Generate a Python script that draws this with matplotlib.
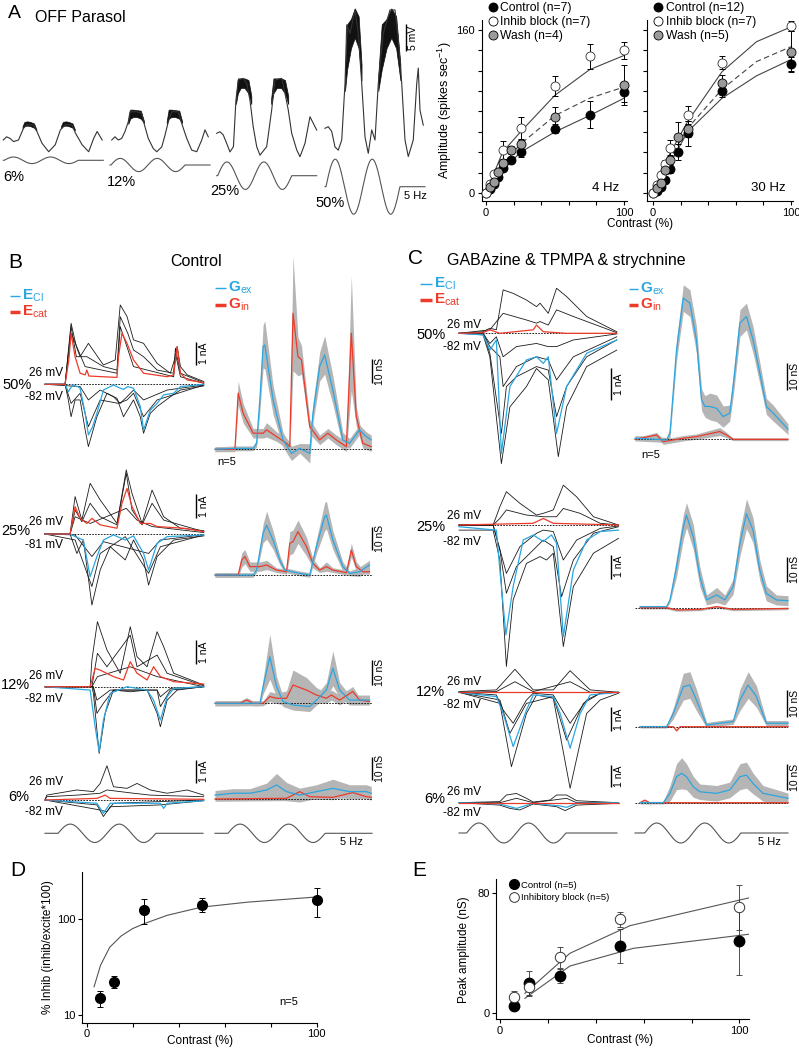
import matplotlib
matplotlib.use("Agg")
import matplotlib.pyplot as plt
import numpy as np
from matplotlib.lines import Line2D
from matplotlib.ticker import NullLocator

plt.rcParams['font.family'] = ['Liberation Sans', 'DejaVu Sans']
plt.rcParams['mathtext.fontset'] = 'custom'
plt.rcParams['mathtext.rm'] = 'Liberation Sans'
plt.rcParams['mathtext.it'] = 'Liberation Sans'
plt.rcParams['mathtext.bf'] = 'Liberation Sans:bold'

BLUE = '#2aa6e0'
RED = '#ec3b2a'
GRAY_BAND = '#b5b5b5'
TRACE_K = '#1a1a1a'

# ---------------------------------------------------------------- data
# Panel A: membrane potential (mV, relative to rest) vs time (ms)
a6_t = [0, 17, 35, 53, 79, 105, 123, 158, 175, 201, 236, 270, 297, 323, 358, 375, 410, 444, 470, 488, 514]
a6_v = [0, 0.6, 0.3, -0.3, 0, 2.2, 2.9, 2.8, 1.6, -0.6, -2.2, -0.9, 1.9, 2.9, 2.8, 1.3, -0.9, -2.2, 0.3, 1.6, 0]
a12_t = [9, 26, 43, 61, 78, 95, 104, 139, 165, 177, 199, 225, 243, 269, 286, 303, 321, 355, 373, 399, 425, 451, 477, 494, 511]
a12_v = [0, 0.6, 0, 0.3, 1.6, 3.4, 5.3, 5.3, 5.0, 3.1, 0.3, -1.6, -2.2, -1.3, 0.9, 3.4, 5.3, 5.3, 3.1, 0.3, -1.9, -2.2, 0, 1.9, 0.6]
a25_t = [0, 17, 34, 52, 69, 87, 100, 112, 138, 156, 173, 190, 208, 225, 260, 286, 303, 338, 355, 372, 390, 416, 433, 459, 485, 502, 520]
a25_v = [0, 0.3, -0.3, -1.9, -3.5, -2.5, 6.2, 10.0, 10.3, 9.4, 6.2, 1.2, -2.5, -4.1, -2.5, 4.4, 10.0, 10.3, 7.5, 4.4, 0, -3.1, -4.4, -1.9, 3.1, 1.9, 0.6]
a50_t = [0, 17, 35, 52, 69, 87, 104, 113, 130, 156, 173, 191, 208, 225, 243, 260, 277, 303, 338, 364, 381, 399, 416, 433, 459, 477, 485, 494, 511]
a50_v = [0, 0.3, -0.6, -3.5, -4.1, -2.2, 8.4, 19.4, 17.8, 22.2, 17.8, 8.4, -1.6, -4.7, -0.3, -2.2, 8.4, 17.8, 22.2, 22.2, 16.6, 8.4, -2.2, -5.3, -2.2, 8.4, 11.3, 3.4, 0.6]
# spiking envelopes (ms, mV)
a6_spk1_t = [100, 110, 125, 140, 160, 172]
a6_spk2_t = [300, 310, 325, 340, 360, 372]
a6_spk_lo = [2.2, 2.6, 2.7, 2.6, 2.3, 1.8]
a6_spk_hi = [2.6, 3.4, 3.5, 3.4, 3.1, 2.0]
a12_spk1_t = [95, 105, 120, 140, 160, 177]
a12_spk2_t = [295, 305, 320, 340, 360, 375]
a12_spk_lo = [3.0, 4.0, 4.3, 4.3, 4.0, 3.2]
a12_spk_hi = [3.6, 5.7, 5.7, 5.6, 5.5, 3.5]
a25_spk1_t = [100, 110, 125, 145, 165, 180]
a25_spk2_t = [283, 295, 312, 335, 355, 372]
a25_spk_lo = [5.5, 7.5, 8.5, 8.5, 7.5, 5.5]
a25_spk_hi = [6.5, 10.3, 10.3, 10.3, 10.0, 7.0]
a50_spk1_t = [104, 115, 135, 155, 175, 190]
a50_spk2_t = [277, 295, 320, 345, 370, 392]
a50_spk_lo = [7, 11, 15, 17, 15, 9]
a50_spk_hi = [10, 19.5, 20.5, 22.5, 21, 12]
a_contrasts = [6, 12, 25, 50]
stim_freq_hz = 5.2

# Panel A right: spike amplitude vs contrast
a4_ctrl_c = [0, 3, 6, 9, 12, 18, 25, 50, 75, 100]
a4_ctrl = [0, 4, 9, 16, 25, 32, 40.5, 63, 77, 99]
a4_ctrl_e = [1, 2, 2, 3, 3, 3, 5.5, 4.5, 13, 10]
a4_inh_c = [0, 3, 6, 12, 25, 50, 75, 100]
a4_inh = [0, 8.5, 18.5, 42, 63.5, 105, 134, 140]
a4_inh_e = [1, 2, 3, 9, 11, 10, 12.5, 8]
a4_wash_c = [3, 6, 9, 12, 18, 25, 50, 100]
a4_wash = [5.6, 11, 21, 29, 42, 48, 75, 106]
a4_wash_e = [2, 2, 3, 3, 4, 5, 9, 20]
fit_c = [0, 6, 12, 25, 50, 75, 100]
a4_fit_ctrl = [0, 12, 22, 40, 60, 76, 93]
a4_fit_inh = [0, 20, 40, 60, 96, 121, 135]
a4_fit_wash = [0, 14, 28, 48, 76, 93, 104]

a30_ctrl_c = [0, 3, 6, 9, 12, 18, 25, 50, 100]
a30_ctrl = [0, 2.3, 6, 12.8, 24, 40.5, 58.5, 100, 126.6]
a30_ctrl_e = [1, 2, 2, 3, 4, 8, 12, 6, 7]
a30_inh_c = [0, 3, 6, 9, 12, 25, 50, 100]
a30_inh = [0, 8, 17.7, 28, 44, 76.5, 128, 164]
a30_inh_e = [1, 2, 3, 4, 8, 9, 6, 5]
a30_wash_c = [3, 6, 9, 12, 18, 25, 50, 100]
a30_wash = [5, 10, 22.6, 32, 55, 62.5, 108, 138.7]
a30_wash_e = [2, 2, 4, 5, 15, 8, 8, 20]
a30_fit_ctrl = [0, 14, 28, 60, 93, 115, 131]
a30_fit_inh = [0, 18, 38, 70, 119, 148.5, 163]
a30_fit_wash = [0, 16, 33, 63.5, 101.8, 129, 143.6]

# Panel B, Control: currents (nA) vs time (ms)
b50l_red = ([0, 80, 95, 104, 120, 140, 160, 167, 175, 230, 287, 293, 307, 327, 353, 393, 487, 513, 527, 540, 567, 633],
            [0, 0, 1.06, 2.22, 1.20, 0.48, 0.41, 0.62, 0.36, 0.33, 0.30, 1.20, 2.22, 1.78, 1.06, 0.48, 0.33, 0.41, 1.64, 0.48, 0.19, 0.07])
b50l_blue = ([0, 80, 93, 110, 130, 140, 160, 173, 190, 207, 233, 273, 300, 313, 330, 353, 380, 393, 420, 447, 473, 513, 540, 633],
             [0, 0, -0.32, -0.03, -0.10, -0.17, -1.26, -2.20, -1.84, -1.26, -0.25, -0.03, -0.17, -0.22, -0.10, -0.17, -0.97, -1.99, -1.12, -0.83, -0.46, -0.39, -0.10, 0])
b50l_k1 = ([0, 80, 104, 125, 140, 173, 233, 280, 300, 327, 353, 393, 447, 500, 520, 527, 540, 567, 633],
           [0, 0, 2.65, 1.64, 1.20, 1.78, 0.84, 1.06, 3.45, 2.95, 1.93, 1.78, 0.91, 0.48, 1.20, 1.64, 0.77, 0.41, 0.12])
b50l_k2 = ([0, 80, 104, 125, 167, 233, 287, 300, 330, 353, 393, 447, 513, 520, 540, 633],
           [0, 0, 2.51, 1.20, 1.20, 0.77, 0.62, 2.94, 2.22, 1.49, 1.20, 0.62, 0.48, 1.57, 0.48, 0.07])
b50l_k3 = ([0, 80, 104, 160, 287, 300, 353, 513, 520, 540, 633],
           [0, 0, 2.22, 0.77, 0.48, 2.51, 0.77, 0.33, 1.35, 0.33, 0.04])
b50l_k4 = ([0, 80, 93, 104, 120, 140, 160, 173, 207, 247, 287, 313, 353, 380, 393, 420, 447, 500, 540, 633],
           [0, 0, -0.68, -1.41, -0.68, -0.68, -1.98, -2.71, -1.41, -0.39, -0.61, -1.41, -0.68, -1.41, -2.13, -1.26, -0.97, -0.54, -0.25, -0.07])
b50l_k5 = ([0, 80, 104, 140, 173, 220, 293, 327, 353, 393, 447, 633],
           [0, 0, -0.83, -0.39, -1.84, -0.68, -0.83, -0.68, -0.39, -1.41, -0.68, -0.03])
b50l_k6 = ([0, 140, 173, 220, 273, 300, 327, 353, 393, 487, 633],
           [0, -0.10, -0.68, -0.25, -0.54, -0.83, -0.54, -0.25, -0.68, -0.25, -0.03])
# conductances (nS) with s.e.m.
b50r_blue = ([0, 80, 153, 167, 180, 193, 200, 233, 273, 307, 340, 380, 393, 420, 440, 473, 513, 540, 580, 607, 627],
             [0, 0.4, 0.4, 2.5, 20.6, 42.8, 43.5, 20.6, 3.9, -1.7, 0.4, -1.7, 15.0, 34.5, 39.3, 24.7, 3.9, 2.5, 8.1, 5.3, 3.9],
             [1, 1, 1, 1.5, 5, 9, 10, 6, 3, 3, 2, 4, 4, 6, 8, 6, 3, 2, 2, 2, 2])
b50r_red = ([0, 80, 93, 113, 153, 193, 207, 247, 287, 300, 313, 333, 347, 380, 420, 453, 487, 527, 547, 567, 593, 627],
            [0, 0, 23.4, 15.0, 6.7, 6.7, 8.1, 5.3, 2.5, 1.1, 56.7, 38.6, 37.3, 9.5, 3.9, 6.7, 3.9, 1.1, 48.4, 13.6, 2.5, 1.1],
            [1, 1, 5, 4, 2, 2, 3, 2, 2, 2, 24, 8, 6, 3, 2, 2, 2, 2, 24, 4, 2, 2])

b25l_red = ([0, 100, 120, 140, 167, 187, 220, 287, 307, 327, 347, 380, 420, 447, 553, 633],
            [0, 0, 1.14, 0.65, 0.44, 0.65, 0.38, 0.24, 1.28, 1.90, 1.14, 0.44, 0.44, 0.31, 0.24, 0.10])
b25l_blue = ([0, 100, 127, 153, 180, 207, 233, 273, 320, 353, 393, 413, 447, 487, 633],
             [0, 0, -0.14, -0.25, -1.78, -0.94, -0.25, -0.04, -0.25, -0.08, -0.81, -1.50, -0.39, -0.11, -0.04])
b25l_k1 = ([0, 100, 120, 147, 180, 220, 287, 324, 347, 387, 427, 473, 540, 633],
           [0, 0, 1.56, 0.58, 2.11, 1.42, 0.44, 2.67, 1.69, 0.44, 1.83, 0.72, 0.24, 0.14])
b25l_k2 = ([0, 100, 120, 147, 180, 220, 287, 324, 347, 387, 427, 473, 633],
           [0, 0, 1.0, 0.51, 1.28, 0.72, 0.38, 2.53, 1.0, 0.38, 1.28, 0.58, 0.10])
b25l_k3 = ([0, 100, 120, 180, 324, 367, 427, 633],
           [0, 0, 0.72, 0.44, 1.07, 0.58, 0.31, 0.06])
b25l_k4 = ([0, 100, 127, 153, 187, 220, 260, 320, 353, 393, 413, 447, 513, 633],
           [0, 0, -0.81, -0.25, -2.96, -1.50, -0.53, -1.08, -0.25, -1.08, -2.13, -0.94, -0.25, -0.08])
b25l_k5 = ([0, 120, 187, 220, 320, 413, 460, 633],
           [0, -0.25, -2.19, -0.81, -0.11, -1.64, -0.53, -0.04])
b25l_k6 = ([0, 120, 187, 233, 413, 460, 633],
           [0, -0.04, -0.94, -0.32, -0.81, -0.25, -0.03])
b25r_blue = ([0, 153, 167, 193, 207, 233, 260, 280, 340, 380, 407, 440, 447, 473, 513, 540, 580, 620],
             [0, 0, 2.1, 17.9, 21.4, 15.0, 6.4, 2.1, 0.7, 0, 12.2, 25.0, 25.7, 15.0, 3.6, 0.7, 1.4, 4.3],
             [1, 1, 1, 4, 6, 4, 2, 1, 1, 1, 3, 6, 6, 4, 2, 1, 2, 2])
b25r_red = ([0, 93, 107, 120, 140, 180, 207, 247, 287, 300, 313, 333, 367, 393, 420, 447, 473, 527, 547, 567, 593, 620],
            [0, 0, 6.4, 7.9, 3.6, 3.6, 4.3, 2.1, 1.4, 13.6, 14.3, 18.6, 12.2, 5.0, 2.1, 3.6, 2.1, 1.0, 10.7, 3.6, 1.4, 1.4],
            [1, 1, 3, 3, 2, 2, 2, 1, 1, 5, 5, 5, 4, 2, 1, 2, 1, 1, 3, 2, 1, 1])

b12l_red = ([0, 180, 200, 220, 273, 313, 340, 367, 407, 433, 460, 513, 633],
            [0, 0, 0.76, 0.69, 0.42, 0.28, 1.04, 0.56, 0.28, 0.83, 0.42, 0.21, 0.11])
b12l_blue = ([0, 180, 200, 216, 233, 260, 327, 407, 433, 460, 487, 513, 633],
             [0, -0.14, -1.67, -2.71, -1.39, -0.28, 0, -0.14, -0.56, -1.39, -0.42, -0.07, 0])
b12l_k1 = ([0, 180, 187, 209, 247, 300, 340, 367, 407, 447, 473, 513, 633],
           [0, 0, 1.11, 2.71, 1.53, 0.56, 2.50, 1.25, 0.83, 2.29, 1.67, 0.56, 0.07])
b12l_k2 = ([0, 187, 209, 247, 340, 367, 447, 487, 633],
           [0, 0, 1.39, 0.83, 2.15, 0.83, 1.32, 0.56, 0.04])
b12l_k3 = ([0, 187, 209, 340, 447, 633], [0, 0, 0.42, 0.83, 0.42, 0])
b12l_k4 = ([0, 187, 193, 216, 240, 273, 340, 407, 447, 460, 487, 527, 633],
           [0, 0, -0.28, -2.78, -1.11, -0.14, -0.21, -0.14, -1.11, -1.67, -0.56, -0.14, 0])
b12l_k5 = ([0, 193, 207, 233, 273, 447, 460, 500, 633], [0, 0, -1.11, -0.69, -0.14, -0.14, -0.83, -0.14, 0])
b12l_k6 = ([0, 193, 207, 260, 447, 460, 500, 633], [0, 0, -0.56, -0.14, -0.14, -0.42, -0.07, 0])
b12r_blue = ([0, 180, 193, 220, 247, 273, 313, 380, 407, 447, 473, 500, 540, 620],
             [0, 0, 6.7, 18.6, 6.7, 0.7, -0.7, -1.3, 1.3, 5.3, 14.0, 5.3, 1.3, 1.3],
             [1, 1, 3, 9, 4, 2, 2, 2, 2, 3, 7, 3, 2, 2])
b12r_red = ([0, 100, 127, 153, 193, 220, 247, 287, 313, 367, 407, 447, 467, 500, 553, 580, 620],
            [0, 0, 1.3, 0, 0, 2.7, 2.0, 2.0, 7.3, 5.3, 3.3, 2.0, 3.3, 1.3, 4.7, 1.3, 0.7],
            [1, 1, 1, 1, 1, 2, 2, 3, 6, 5, 3, 2, 2, 2, 2, 1, 1])

b6l_red = ([0, 207, 240, 260, 633], [0, 0.07, 0.21, 0.07, 0.03])
b6l_blue = ([0, 207, 233, 260, 460, 473, 487, 633], [0, -0.14, -0.57, -0.14, -0.14, -0.36, -0.14, -0.03])
b6l_k1 = ([0, 7, 127, 193, 220, 247, 273, 327, 367, 420, 487, 567, 633],
          [0, 0.21, 0.43, 0.36, 0.71, 1.47, 0.57, 0.50, 0.71, 0.43, 0.29, 0.43, 0.21])
b6l_k2 = ([0, 7, 127, 220, 247, 353, 420, 633], [0, 0.14, 0.21, 0.29, 0.43, 0.29, 0.21, 0.14])
b6l_k3 = ([0, 207, 233, 260, 460, 633], [0, -0.21, -0.71, -0.29, -0.21, -0.03])
b6l_k4 = ([0, 220, 247, 273, 633], [0, -0.43, -0.5, -0.14, 0])
b6r_blue = ([0, 73, 140, 207, 247, 287, 340, 407, 473, 540, 607, 627],
            [1.7, 2.5, 2.5, 3.9, 6.1, 3.2, 1.7, 3.2, 4.6, 3.2, 3.2, 2.5],
            [2, 2, 2, 3, 5, 4, 3, 3, 4, 3, 3, 3])
b6r_red = ([0, 287, 340, 380, 473, 553, 607, 627],
           [0, 0.3, 3.2, 1.0, 0.7, 2.8, 1.0, 0.7],
           [1, 1, 1, 1, 1, 1, 1, 1])

# Panel C, inhibitory block
c50l_k1 = ([0, 96, 123, 149, 176, 216, 269, 309, 323, 356, 389, 429, 509, 629],
           [0, 0.05, 0.16, 0.11, 1.37, 1.26, 1.05, 0.84, 0.95, 0.63, 1.42, 1.16, 0.53, 0.05])
c50l_k2 = ([0, 123, 176, 269, 309, 323, 356, 389, 456, 629],
           [0, 0.11, 0.63, 0.42, 0.32, 0.37, 0.26, 0.74, 0.53, 0.02])
c50l_k3 = ([0, 96, 123, 149, 176, 229, 309, 356, 389, 456, 629],
           [0, 0, -0.32, -0.11, -0.74, -0.42, -0.32, -0.42, -0.42, -0.21, -0.02])
c50l_k4 = ([0, 96, 123, 163, 176, 229, 309, 356, 389, 456, 629],
           [0, 0, -0.42, -0.74, -1.68, -1.05, -0.74, -0.84, -1.47, -0.74, -0.11])
c50l_k5 = ([0, 96, 123, 169, 189, 229, 309, 356, 389, 429, 509, 629],
           [0, 0, -0.63, -3.16, -1.68, -1.37, -1.05, -1.16, -2.63, -1.68, -0.74, -0.21])
c50l_k6 = ([0, 96, 123, 169, 203, 269, 309, 356, 396, 429, 509, 629],
           [0, -0.05, -0.74, -4.11, -2.32, -1.68, -1.11, -1.47, -3.89, -2.32, -1.05, -0.53])
c50l_blue = ([0, 96, 123, 149, 169, 203, 269, 309, 336, 356, 389, 429, 509, 629],
             [0, -0.05, -0.53, -0.21, -3.79, -1.68, -0.84, -0.74, -0.95, -0.74, -3.16, -1.68, -0.63, -0.21])
c50l_red = ([0, 96, 123, 163, 296, 309, 336, 429, 629], [0, 0.02, 0.11, 0, 0.11, 0.26, 0.05, 0, 0])
c50r_blue = ([0, 89, 130, 144, 171, 199, 226, 253, 274, 288, 308, 336, 363, 390, 404, 432, 459, 486, 514, 541, 569, 630],
             [0.4, 0, -0.3, 2.3, 33.5, 52.9, 51, 37.3, 14.8, 12.3, 12.3, 11.6, 8.5, 9.8, 19.8, 43.5, 46, 37.3, 24.8, 12.3, 9.8, 3.8],
             [1, 1, 1, 2, 4, 5, 5, 5, 4, 4, 5, 5, 4, 3, 4, 5, 5, 5, 4, 3, 3, 2])
c50r_red = ([0, 89, 116, 199, 253, 349, 377, 404, 630],
            [0, 1.6, -0.9, 0.4, 1.0, 2.9, 1.6, 0, 0],
            [0.5, 1, 1, 1, 1, 1.5, 1, 0.5, 0.5])

c25l_k1 = ([0, 136, 163, 189, 243, 309, 336, 376, 416, 469, 536, 636],
           [0, 0, 0.75, 1.37, 0.89, 0.41, 0.48, 0.62, 1.64, 1.16, 0.34, 0])
c25l_k2 = ([0, 136, 163, 189, 269, 336, 389, 416, 483, 563, 636],
           [0, 0, 0.27, 0.62, 0.41, 0.34, 0.34, 0.68, 0.48, 0.07, 0])
c25l_k3 = ([0, 136, 149, 189, 243, 309, 336, 376, 416, 469, 563, 636],
           [0, 0, -0.48, -1.99, -0.89, -0.34, -0.21, -0.27, -1.44, -0.62, -0.14, -0.04])
c25l_k4 = ([0, 136, 163, 189, 229, 336, 376, 409, 456, 536, 636],
           [0, 0, -1.03, -2.81, -1.71, -0.62, -0.89, -2.95, -1.44, -0.34, -0.07])
c25l_k5 = ([0, 136, 163, 189, 216, 269, 323, 349, 376, 416, 456, 536, 636],
           [-0.21, -0.21, -1.44, -5.82, -3.08, -1.58, -1.30, -1.44, -1.16, -5.0, -2.53, -1.16, -0.55])
c25l_blue = ([0, 149, 163, 187, 216, 256, 296, 336, 369, 389, 416, 456, 509, 563, 636],
             [-0.07, -0.21, -1.85, -4.52, -2.53, -0.62, -0.41, -0.68, -0.41, -0.75, -4.59, -1.85, -0.62, -0.27, -0.21])
c25l_red = ([0, 296, 336, 376, 636], [0, 0.07, 0.27, 0.07, 0])
c25r_blue = ([21, 130, 144, 171, 199, 212, 240, 267, 295, 336, 370, 404, 432, 459, 486, 514, 541, 582, 630],
             [0.4, 0.4, 3.1, 16.4, 32.3, 37.0, 28.3, 12.4, 3.1, 5.1, 3.1, 8.4, 25.7, 37.6, 31.0, 15.0, 5.7, 3.1, 2.8],
             [0.5, 0.5, 1, 4, 5, 5, 5, 4, 2, 3, 2, 3, 5, 6, 5, 4, 3, 2, 2])
c25r_red = ([21, 130, 171, 267, 336, 404, 630], [0, 0, -0.9, -0.7, 0.4, -0.7, -0.3], [0.5, 0.5, 0.5, 0.5, 0.5, 0.5, 0.5])

c12l_k1 = ([0, 149, 223, 296, 376, 443, 523, 636], [0.03, 0.1, 0.96, 0.1, 0.1, 0.9, 0.1, 0])
c12l_k2 = ([0, 149, 223, 296, 443, 523, 636], [0, 0.03, 0.44, 0.03, 0.44, 0, 0])
c12l_k3 = ([0, 149, 176, 216, 269, 296, 376, 403, 443, 509, 563, 636],
           [0, -0.11, -0.74, -1.29, -0.32, -0.04, -0.11, -0.6, -1.29, -0.32, -0.04, 0])
c12l_k4 = ([0, 163, 203, 269, 376, 429, 496, 563, 636], [0, -0.32, -1.71, -0.46, -0.18, -1.99, -0.46, -0.04, 0])
c12l_k5 = ([0, 163, 209, 269, 309, 376, 443, 509, 563, 636], [0, -0.46, -3.10, -0.88, -0.11, -0.25, -4.0, -0.88, -0.32, -0.04])
c12l_blue = ([0, 149, 176, 216, 269, 296, 376, 403, 443, 483, 523, 636],
             [0, -0.18, -0.88, -2.26, -0.74, -0.11, -0.18, -0.88, -2.33, -0.88, -0.11, 0])
c12l_red = ([0, 636], [0, 0])
c12r_blue = ([21, 130, 158, 199, 226, 253, 295, 349, 404, 432, 466, 500, 541, 630],
             [0, 0, 5, 15, 15.6, 10, 0.6, 1.3, 1.9, 10, 15.6, 11.3, 1.3, 1.3],
             [0.5, 0.5, 2, 5, 5, 4, 1, 1, 1, 4, 5, 4, 1, 1])
c12r_red = ([21, 158, 171, 185, 630], [0, 0, -1.5, 0, 0], [0.3, 0.3, 0.3, 0.3, 0.3])

c6l_k1 = ([0, 163, 189, 229, 269, 296, 363, 389, 429, 469, 636], [0, 0.05, 0.35, 0.42, 0.2, 0.03, 0.12, 0.35, 0.35, 0.09, 0])
c6l_k2 = ([0, 163, 229, 296, 429, 469, 636], [0, 0, 0.2, 0, 0.2, 0, 0])
c6l_k3 = ([0, 163, 203, 243, 296, 389, 423, 469, 636], [0, -0.11, -0.26, -0.33, -0.06, -0.18, -0.36, -0.11, -0.03])
c6l_blue = ([0, 163, 203, 229, 296, 403, 429, 469, 636], [0, -0.06, -0.18, -0.26, -0.03, -0.15, -0.21, -0.03, 0])
c6l_red = ([0, 636], [0, 0])
c6r_blue = ([21, 116, 144, 171, 192, 212, 240, 267, 336, 390, 432, 459, 486, 527, 630],
            [0, 0, 3.6, 10, 11.3, 10, 6.1, 4.2, 3.6, 4.9, 10, 10.6, 7.4, 3.6, 1.7],
            [0.5, 0.5, 3, 5, 6, 5, 4, 3, 3, 3, 5, 5, 4, 3, 2])
c6r_red = ([21, 40, 60, 630], [0, 1, 0, 0], [0.3, 0.3, 0.3, 0.3])

# Panel D: % inhibition
d_contrast = [6, 12, 25, 50, 100]
d_inhib = [14.9, 22.2, 126, 142, 160]
d_lo = [12.0, 19.0, 90, 119, 106]
d_hi = [17.9, 25.5, 161.6, 167, 212]
d_fit_c = [3.2, 6, 10, 15, 20, 25, 35, 50, 70, 100]
d_fit_y = [19.7, 33, 51, 67, 80, 90, 110, 134, 151, 171]

# Panel E: peak conductance
e_contrast = [6, 12, 25, 50, 100]
e_ctrl = [4.9, 20, 24.9, 44.9, 48.2]
e_ctrl_err = [2, 8.5, 4.5, 11.5, 22.5]
e_inh = [10.7, 17.3, 37.3, 62.7, 70.7]
e_inh_err = [4, 5, 7, 5, 15]
e_fit_inh_c = [10.4, 29.2, 54.3, 105]
e_fit_inh = [13.3, 40, 58.4, 77.3]
e_fit_ctrl_c = [10.4, 29.2, 55.7, 105]
e_fit_ctrl = [10, 31.5, 43.3, 52.9]

# ---------------------------------------------------------------- layout helpers
W, H = 799, 1050
fig = plt.figure(figsize=(W / 100, H / 100), dpi=100)


def ftxt(x, y, s, **kw):
    kw.setdefault('va', 'center')
    return fig.text(x / W, 1 - y / H, s, **kw)


def px_axes(x0, y0, x1, y1):
    ax = fig.add_axes([x0 / W, 1 - y1 / H, (x1 - x0) / W, (y1 - y0) / H])
    ax.patch.set_alpha(0)
    return ax


def trace_ax(x0, x1, base, scale, up=95, down=95, tmax=630):
    ax = px_axes(x0, base - up, x1, base + down)
    ax.set_xlim(0, tmax)
    ax.set_ylim(-down / scale, up / scale)
    ax.axis('off')
    return ax


def fig_line(x0, x1, y, color, lw):
    fig.add_artist(Line2D([x0 / W, x1 / W], [1 - y / H, 1 - y / H], color=color, lw=lw,
                          transform=fig.transFigure, solid_capstyle='butt'))


def vbar(ax, t, v0, length, label):
    ax.plot([t, t], [v0, v0 + length], color='k', lw=1.0, clip_on=False, solid_capstyle='butt')
    ax.text(t + 12, v0 + length / 2, label, rotation=90, va='center', ha='left', fontsize=7.5, clip_on=False)


def draw_currents(ax, blacks, blue, red):
    ax.axhline(0, color='k', lw=0.6, ls=(0, (2, 1.5)))
    for tr in blacks:
        ax.plot(tr[0], tr[1], color=TRACE_K, lw=0.6, clip_on=False)
    ax.plot(blue[0], blue[1], color=BLUE, lw=0.9, clip_on=False)
    ax.plot(red[0], red[1], color=RED, lw=0.9, clip_on=False)


def draw_cond(ax, blue, red):
    for tr in (red, blue):
        t = np.array(tr[0]); v = np.array(tr[1]); s = np.array(tr[2])
        ax.fill_between(t, v - s, v + s, color=GRAY_BAND, lw=0, clip_on=False)
    ax.axhline(0, color='k', lw=0.6, ls=(0, (2, 1.5)))
    ax.plot(red[0], red[1], color=RED, lw=0.9, clip_on=False)
    ax.plot(blue[0], blue[1], color=BLUE, lw=0.9, clip_on=False)


def stim_ax(x0, x1, yc, amp_px, contrast, t_on, period, tmax=630):
    ax = px_axes(x0, yc - 40, x1, yc + 40)
    ax.set_xlim(0, tmax)
    ax.set_ylim(-40 / amp_px * contrast, 40 / amp_px * contrast)
    ax.axis('off')
    t = np.linspace(0, tmax, 800)
    on = (t >= t_on) & (t <= t_on + 2 * period)
    y = np.where(on, contrast * np.sin(2 * np.pi * (t - t_on) / period), 0.0)
    ax.plot(t, y, color='#555555', lw=0.8, clip_on=False)
    return ax


def unclip_errorbar(eb):
    for art in list(eb.lines[1]) + list(eb.lines[2]):
        art.set_clip_on(False)


# ---------------------------------------------------------------- Panel A traces
ftxt(8, 13, 'A', fontsize=14)
ftxt(35, 17, 'OFF Parasol', fontsize=11.5)
period_ms = 1000 / stim_freq_hz
a_specs = [
    (3.3, 140.0, 160.3, a6_t, a6_v, (a6_spk1_t, a6_spk2_t), a6_spk_lo, a6_spk_hi, '6%', (3, 177)),
    (110.0, 140.0, 165.0, a12_t, a12_v, (a12_spk1_t, a12_spk2_t), a12_spk_lo, a12_spk_hi, '12%', (107, 182)),
    (216.7, 133.3, 175.7, a25_t, a25_v, (a25_spk1_t, a25_spk2_t), a25_spk_lo, a25_spk_hi, '25%', (210, 191)),
    (325.0, 128.3, 186.7, a50_t, a50_v, (a50_spk1_t, a50_spk2_t), a50_spk_lo, a50_spk_hi, '50%', (315, 203)),
]
for (x0, base, yc, tt, vv, spk_ts, lo, hi, lab, lpos), c in zip(a_specs, a_contrasts):
    ax = trace_ax(x0, x0 + 100, base, 5.33, up=130, down=30, tmax=520)
    for st in spk_ts:
        ax.fill_between(st, lo, hi, color='#111111', lw=0.5, edgecolor='#111111')
    ax.plot(tt, vv, color='#333333', lw=0.8, clip_on=False)
    stim_ax(x0, x0 + 100, yc, 0.55 * c, c, 5, period_ms, tmax=520)
    ftxt(lpos[0], lpos[1], lab, fontsize=10.5, ha='left')
    if lab == '50%':
        vbar(ax, 420, 14.5, 5, '5 mV')
ftxt(404, 196, '5 Hz', fontsize=8, ha='left')

# ---------------------------------------------------------------- Panel A right: spike amplitude
def amp_axes(x0, x1, zero_x):
    ax = px_axes(x0, 20, x1, 201)
    pxu = 1.38
    ax.set_xlim((x0 - zero_x) / pxu, (x1 - zero_x) / pxu)
    ax.set_ylim(-7.85, 169.8)
    for s in ('top', 'right'):
        ax.spines[s].set_visible(False)
    for s in ('left', 'bottom'):
        ax.spines[s].set_linewidth(0.8)
    ax.set_xticks(range(0, 101, 20))
    ax.set_xticklabels(['0', '', '', '', '', '100'])
    ax.set_yticks(range(0, 161, 20))
    ax.tick_params(length=3, width=0.8, labelsize=8, pad=2)
    return ax


def amp_plot(ax, ctrl, inh, wash, fits, legend_labels, freq_label):
    fc, f_ctrl, f_inh, f_wash = fits
    ax.plot(fc, f_inh, color='#444444', lw=0.8, zorder=1)
    ax.plot(fc, f_ctrl, color='#444444', lw=0.8, zorder=1)
    ax.plot(fc, f_wash, color='#444444', lw=0.8, ls=(0, (5, 3)), zorder=1)
    handles = []
    for (cx, cy, ce), fcol in zip((ctrl, inh, wash), ('k', 'white', '#9a9a9a')):
        eb = ax.errorbar(cx, cy, yerr=ce, fmt='none', ecolor='k', elinewidth=0.7, capsize=2.5, capthick=0.7, zorder=2)
        unclip_errorbar(eb)
        ax.plot(cx, cy, 'o', ms=6.5, mfc=fcol, mec='k' if fcol != 'white' else '#333333', mew=0.6, zorder=3, clip_on=False)
        handles.append(Line2D([], [], marker='o', ls='none', ms=6.5, mfc=fcol, mec='k', mew=0.6))
    ax.legend(handles, legend_labels, loc='upper left', bbox_to_anchor=(0.04, 1.098), frameon=False,
              fontsize=8.7, handlelength=0.8, handletextpad=0.25, labelspacing=0.16, borderaxespad=0,
              borderpad=0)
    ax.text(0.95, 0.07, freq_label, transform=ax.transAxes, ha='right', va='center', fontsize=9.5)


ax4 = amp_axes(482, 627, 486)
ax4.set_yticklabels(['0', '', '', '', '', '', '', '', '160'])
amp_plot(ax4, (a4_ctrl_c, a4_ctrl, a4_ctrl_e), (a4_inh_c, a4_inh, a4_inh_e), (a4_wash_c, a4_wash, a4_wash_e),
         (fit_c, a4_fit_ctrl, a4_fit_inh, a4_fit_wash),
         ['Control (n=7)', 'Inhib block (n=7)', 'Wash (n=4)'], '4 Hz')
ax4.set_ylabel('Amplitude (spikes sec$^{-1}$)', fontsize=9, labelpad=2)

ax30 = amp_axes(647, 793, 653)
ax30.set_yticklabels([])
amp_plot(ax30, (a30_ctrl_c, a30_ctrl, a30_ctrl_e), (a30_inh_c, a30_inh, a30_inh_e), (a30_wash_c, a30_wash, a30_wash_e),
         (fit_c, a30_fit_ctrl, a30_fit_inh, a30_fit_wash),
         ['Control (n=12)', 'Inhib block (n=7)', 'Wash (n=5)'], '30 Hz')
ftxt(640, 224, 'Contrast (%)', fontsize=8.5, ha='center')

# ---------------------------------------------------------------- Panel B
ftxt(8, 263, 'B', fontsize=15)
ftxt(196, 261, 'Control', fontsize=11.5, ha='center')
fig_line(10, 20, 296, BLUE, 1.0)
ftxt(22, 296, r'E$_{\mathrm{Cl}}$', fontsize=11, color=BLUE, ha='left', fontweight='bold')
fig_line(10, 20, 312, RED, 2.5)
ftxt(22, 312, r'E$_{\mathrm{cat}}$', fontsize=11, color=RED, ha='left', fontweight='bold')
fig_line(215, 226, 288, BLUE, 1.0)
ftxt(228, 288, r'G$_{\mathrm{ex}}$', fontsize=11, color=BLUE, ha='left', fontweight='bold')
fig_line(215, 226, 305, RED, 2.5)
ftxt(228, 305, r'G$_{\mathrm{in}}$', fontsize=11, color=RED, ha='left', fontweight='bold')

b_rows = [
    (384.3, 23.0, 449.3, 2.4, (b50l_k1, b50l_k2, b50l_k3, b50l_k4, b50l_k5, b50l_k6), b50l_blue, b50l_red,
     b50r_blue, b50r_red, 0.84, 27.6, ('50%', 2, 385), ('26 mV', 373), ('-82 mV', 397)),
    (534.0, 24.0, 575.0, 2.33, (b25l_k1, b25l_k2, b25l_k3, b25l_k4, b25l_k5, b25l_k6), b25l_blue, b25l_red,
     b25r_blue, b25r_red, 0.67, 10.7, ('25%', 1, 531), ('26 mV', 522), ('-81 mV', 545)),
    (686.7, 24.0, 703.3, 2.5, (b12l_k1, b12l_k2, b12l_k3, b12l_k4, b12l_k5, b12l_k6), b12l_blue, b12l_red,
     b12r_blue, b12r_red, 0.95, 7.3, ('12%', 1, 685), ('26 mV', 676), ('-82 mV', 699)),
    (800.0, 23.3, 799.0, 2.3, (b6l_k1, b6l_k2, b6l_k3, b6l_k4), b6l_blue, b6l_red,
     b6r_blue, b6r_red, 0.73, 8.3, ('6%', 8, 797), ('26 mV', 782), ('-82 mV', 812)),
]
for (lb, ls_, rb, rs, blacks, blue, red, gb, gr, lbar, rbar, plab, m1, m2) in b_rows:
    axl = trace_ax(45, 203, lb, ls_)
    draw_currents(axl, blacks, blue, red)
    vbar(axl, 602, lbar, 1, '1 nA')
    axr = trace_ax(215, 372, rb, rs)
    draw_cond(axr, gb, gr)
    vbar(axr, 630, rbar, 10, '10 nS')
    ftxt(plab[1], plab[2], plab[0], fontsize=10.5, ha='left')
    ftxt(63, m1[1], m1[0], fontsize=8.5, ha='right')
    ftxt(63, m2[1], m2[0], fontsize=8.5, ha='right')
ftxt(217, 462, 'n=5', fontsize=8, ha='left')
stim_ax(45, 203, 833.3, 9.2, 1.0, 52, 195)
stim_ax(215, 372, 833.3, 9.2, 1.0, 52, 195)
ftxt(340, 842, '5 Hz', fontsize=8, ha='left')

# ---------------------------------------------------------------- Panel C
ftxt(408, 259, 'C', fontsize=15)
ftxt(566, 261, 'GABAzine & TPMPA & strychnine', fontsize=11.5, ha='center')
fig_line(420, 432, 284, BLUE, 1.0)
ftxt(434, 284, r'E$_{\mathrm{Cl}}$', fontsize=11, color=BLUE, ha='left', fontweight='bold')
fig_line(420, 432, 300, RED, 2.5)
ftxt(434, 300, r'E$_{\mathrm{cat}}$', fontsize=11, color=RED, ha='left', fontweight='bold')
fig_line(629, 638, 289, BLUE, 1.0)
ftxt(640, 289, r'G$_{\mathrm{ex}}$', fontsize=11, color=BLUE, ha='left', fontweight='bold')
fig_line(629, 638, 305, RED, 2.5)
ftxt(640, 305, r'G$_{\mathrm{in}}$', fontsize=11, color=RED, ha='left', fontweight='bold')

c_rows = [
    (333.3, 31.7, 439.3, 2.67, (c50l_k1, c50l_k2, c50l_k3, c50l_k4, c50l_k5, c50l_k6), c50l_blue, c50l_red,
     c50r_blue, c50r_red, -2.1, 18.5, ('50%', 416, 335), ('26 mV', 325), ('-82 mV', 347)),
    (525.0, 24.3, 607.7, 2.5, (c25l_k1, c25l_k2, c25l_k3, c25l_k4, c25l_k5), c25l_blue, c25l_red,
     c25r_blue, c25r_red, -2.22, 10.3, ('25%', 416, 527), ('26 mV', 516), ('-82 mV', 542)),
    (692.3, 24.0, 726.7, 2.67, (c12l_k1, c12l_k2, c12l_k3, c12l_k4, c12l_k5), c12l_blue, c12l_red,
     c12r_blue, c12r_red, -1.61, 3.6, ('12%', 416, 692), ('26 mV', 682), ('-82 mV', 705)),
    (802.7, 22.0, 802.7, 2.6, (c6l_k1, c6l_k2, c6l_k3), c6l_blue, c6l_red,
     c6r_blue, c6r_red, 0.71, 4.9, ('6%', 424, 799), ('26 mV', 792), ('-82 mV', 813)),
]
for (lb, ls_, rb, rs, blacks, blue, red, gb, gr, lbar, rbar, plab, m1, m2) in c_rows:
    axl = trace_ax(459, 617, lb, ls_)
    draw_currents(axl, blacks, blue, red)
    vbar(axl, 605, lbar, 1, '1 nA')
    axr = trace_ax(635, 788, rb, rs)
    draw_cond(axr, gb, gr)
    vbar(axr, 625, rbar, 10, '10 nS')
    ftxt(plab[1], plab[2], plab[0], fontsize=10.5, ha='left')
    ftxt(447, m1[1], m1[0], fontsize=8.5, ha='left')
    ftxt(443, m2[1], m2[0], fontsize=8.5, ha='left')
ftxt(641, 455, 'n=5', fontsize=8, ha='left')
stim_ax(459, 617, 833.0, 10.0, 1.0, 30, 198)
stim_ax(635, 788, 833.0, 10.0, 1.0, 40, 198)
ftxt(758, 842, '5 Hz', fontsize=8, ha='left')

# ---------------------------------------------------------------- Panel D
ftxt(10, 871, 'D', fontsize=15)
axd = px_axes(81.7, 871.7, 317, 1022.7)
axd.set_yscale('log')
axd.set_ylim(8.31, 314)
axd.set_xlim(-2.17, 100.1)
axd.plot(d_fit_c, d_fit_y, color='#555555', lw=0.8, zorder=1)
d_y = np.array(d_inhib)
ebd = axd.errorbar(d_contrast, d_inhib, yerr=[d_y - np.array(d_lo), np.array(d_hi) - d_y], fmt='none',
                   ecolor='k', elinewidth=0.7, capsize=2.5, capthick=0.7, zorder=2)
unclip_errorbar(ebd)
axd.plot(d_contrast, d_inhib, 'o', ms=7, mfc='k', mec='k', zorder=3, clip_on=False)
for s in ('top', 'right'):
    axd.spines[s].set_visible(False)
for s in ('left', 'bottom'):
    axd.spines[s].set_linewidth(0.8)
axd.set_yticks([10, 100])
axd.set_yticklabels(['10', '100'])
axd.yaxis.set_minor_locator(NullLocator())
axd.set_xticks(range(0, 101, 20))
axd.set_xticklabels(['0', '', '', '', '', '100'])
axd.tick_params(length=3, width=0.8, labelsize=8, pad=1.5)
axd.set_ylabel('% Inhib (inhib/excite*100)', fontsize=8.5, labelpad=2)
ftxt(200, 1041, 'Contrast (%)', fontsize=8.5, ha='center')
axd.text(0.84, 0.14, 'n=5', transform=axd.transAxes, fontsize=8, ha='left', va='center')

# ---------------------------------------------------------------- Panel E
ftxt(412, 871, 'E', fontsize=15)
axe = px_axes(496, 879.3, 749, 1019.3)
axe.set_xlim(-1.67, 104)
axe.set_ylim(-4, 89.3)
axe.plot(e_fit_inh_c, e_fit_inh, color='#555555', lw=0.8, zorder=1)
axe.plot(e_fit_ctrl_c, e_fit_ctrl, color='#555555', lw=0.8, zorder=1)
eb1 = axe.errorbar(e_contrast, e_ctrl, yerr=e_ctrl_err, fmt='none', ecolor='#333333', elinewidth=0.6, capsize=2.5,
                   capthick=0.6, zorder=2)
eb2 = axe.errorbar(e_contrast, e_inh, yerr=e_inh_err, fmt='none', ecolor='#333333', elinewidth=0.6, capsize=2.5,
                   capthick=0.6, zorder=2)
unclip_errorbar(eb1)
unclip_errorbar(eb2)
axe.plot(e_contrast, e_ctrl, 'o', ms=7.5, mfc='k', mec='k', zorder=3)
axe.plot(e_contrast, e_inh, 'o', ms=7.5, mfc='white', mec='#333333', mew=0.7, zorder=4)
for s in ('top', 'right'):
    axe.spines[s].set_visible(False)
for s in ('left', 'bottom'):
    axe.spines[s].set_linewidth(0.8)
axe.set_yticks([0, 80])
axe.set_xticks(range(0, 101, 20))
axe.set_xticklabels(['0', '', '', '', '', '100'])
axe.tick_params(length=3, width=0.8, labelsize=8, pad=1.5)
axe.set_ylabel('Peak amplitude (nS)', fontsize=8.5, labelpad=5)
ftxt(620, 1040, 'Contrast (%)', fontsize=8.5, ha='center')
e_handles = [Line2D([], [], marker='o', ls='none', ms=7, mfc='k', mec='k'),
             Line2D([], [], marker='o', ls='none', ms=7, mfc='white', mec='#333333', mew=0.7)]
axe.legend(e_handles, ['Control (n=5)', 'Inhibitory block (n=5)'], loc='upper left',
           bbox_to_anchor=(0.055, 0.99), frameon=False, fontsize=6.8, handlelength=0.8,
           handletextpad=0.4, labelspacing=0.35, borderaxespad=0, borderpad=0)

fig.savefig('out.png', dpi=100)
